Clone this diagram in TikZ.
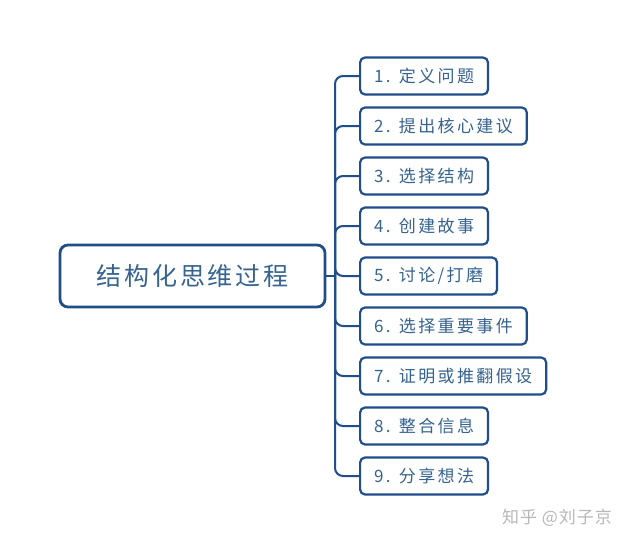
\documentclass[tikz,border=0pt]{standalone}
\usepackage{fontspec}
\newfontfamily\cjk{Noto Sans CJK SC}
\newfontfamily\cjksp[LetterSpace=14]{Noto Sans CJK SC}
\newfontfamily\cjkmain[LetterSpace=11]{Noto Sans CJK SC}
\newfontfamily\cjkwm[LetterSpace=6]{Noto Sans CJK SC}
\definecolor{bord}{HTML}{1F4E8A}
\definecolor{txt}{HTML}{36638F}
\definecolor{wm}{HTML}{B8B8B8}
\begin{document}
\begin{tikzpicture}[x=1pt,y=-1pt,
  child/.style={draw=bord,line width=2.2pt,rounded corners=5pt,anchor=west,minimum height=37pt,inner xsep=14pt,text=txt,font=\cjksp\fontsize{17}{20}\selectfont},
  root/.style={draw=bord,line width=2.8pt,rounded corners=8pt,minimum width=265pt,minimum height=62pt,text=txt,font=\cjkmain\fontsize{25}{30}\selectfont},
  conn/.style={draw=bord,line width=2pt,rounded corners=8pt}]
\useasboundingbox (0,0) rectangle (633,546);
\fill[white] (0,0) rectangle (633,546);
\node[root] (main) at (192.5,276) {结构化思维过程};
\coordinate (tr) at (335,276);
\node[child] (c1) at (359,76) {1. 定义问题};
\node[child] (c2) at (359,126) {2. 提出核心建议};
\node[child] (c3) at (359,176) {3. 选择结构};
\node[child] (c4) at (359,226) {4. 创建故事};
\node[child] (c5) at (359,276) {5. 讨论/打磨};
\node[child] (c6) at (359,326) {6. 选择重要事件};
\node[child] (c7) at (359,376) {7. 证明或推翻假设};
\node[child] (c8) at (359,426) {8. 整合信息};
\node[child] (c9) at (359,476) {9. 分享想法};
\draw[conn,rounded corners=0pt] (main.east) -- (tr);
\foreach \c in {c1,c2,c3,c4,c5,c6,c7,c8,c9}
  \draw[conn] (tr) |- (\c.west);
\node[text=wm,font=\cjkwm\fontsize{17}{19}\selectfont] (w) at (557,518) {知乎 @刘子京};
\end{tikzpicture}
\end{document}
